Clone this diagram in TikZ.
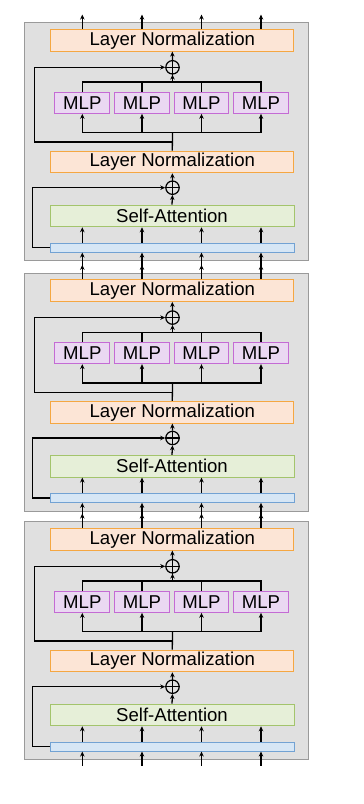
\documentclass[tikz,border=0pt]{standalone}
\usepackage{fontspec}
\setmainfont{Liberation Sans}
\usetikzlibrary{arrows.meta,calc}
\definecolor{blkfill}{HTML}{E0E0E0}
\definecolor{blkdraw}{HTML}{9A9A9A}
\definecolor{lnfill}{HTML}{FCE5D6}
\definecolor{lndraw}{HTML}{F5A742}
\definecolor{mlpfill}{HTML}{EAD8F2}
\definecolor{mlpdraw}{HTML}{C46BD4}
\definecolor{safill}{HTML}{E6EFD8}
\definecolor{sadraw}{HTML}{A3C46C}
\definecolor{barfill}{HTML}{D6E6F5}
\definecolor{bardraw}{HTML}{72A2D3}
\begin{document}
\begin{tikzpicture}[x=1pt,y=-1pt,
  blk/.style={draw=blkdraw, fill=blkfill, line width=1pt, minimum width=284pt, minimum height=238pt, inner sep=0pt, outer sep=0pt, anchor=north west},
  txt/.style={font=\fontsize{18.6}{22}\selectfont, text=black},
  lnbox/.style={txt, draw=lndraw, fill=lnfill, line width=1pt, minimum width=243.3pt, minimum height=21.7pt, inner sep=0pt},
  mlpbox/.style={txt, draw=mlpdraw, fill=mlpfill, line width=1pt, minimum width=54.7pt, minimum height=21.3pt, inner sep=0pt},
  sabox/.style={txt, draw=sadraw, fill=safill, line width=1pt, minimum width=244pt, minimum height=21.7pt, inner sep=0pt},
  barbox/.style={draw=bardraw, fill=barfill, line width=1pt, minimum width=244pt, minimum height=8.7pt, inner sep=0pt},
  plusnode/.style={circle, draw=black, line width=1.2pt, minimum size=13.4pt, inner sep=0pt},
  wire/.style={line width=1.3pt, draw=black},
  arr/.style={line width=1.3pt, draw=black, -{Stealth[length=5pt,width=4.5pt]}},
]
\useasboundingbox (0,0) rectangle (364,804);
\coordinate (c1) at (82.3,0);
\coordinate (c2) at (142,0);
\coordinate (c3) at (201.5,0);
\coordinate (c4) at (261,0);
\foreach \b/\T in {1/22.7,2/273,3/521.7}{
\begin{scope}[shift={(0,\T)}]
  \node[blk] (blk\b) at (24,0) {};
  \node[lnbox] (lnT\b) at (172.3,17.5) {Layer Normalization};
  \node[plusnode] (plA\b) at (172.5,44.6) {};
  \draw[wire, line width=1.1pt] (plA\b.north) -- (plA\b.south) (plA\b.west) -- (plA\b.east);
  \foreach \i in {1,2,3,4}{
    \node[mlpbox] (mlp\b-\i) at (c\i |- 0,80) {MLP};
  }
  \node[lnbox] (lnB\b) at (172.3,139.2) {Layer Normalization};
  \node[plusnode] (plB\b) at (172.5,165) {};
  \draw[wire, line width=1.1pt] (plB\b.north) -- (plB\b.south) (plB\b.west) -- (plB\b.east);
  \node[sabox] (sa\b) at (172,193.2) {Self-Attention};
  \node[barbox] (bar\b) at (172,225) {};
  \coordinate (tb\b) at (172.5,59.3);
  \coordinate (bb\b) at (172.5,110);
  \coordinate (k\b) at (34.7,119.3);
  \coordinate (m\b) at (32.7,225);
  % outputs
  \foreach \i in {1,2,3,4}{
    \draw[arr] (c\i |- lnT\b.north) -- ++(0,-14.3);
  }
  \draw[arr] (plA\b.north) -- (lnT\b.south);
  % top bus
  \draw[wire] (mlp\b-1.north) |- (tb\b) -| (mlp\b-4.north);
  \draw[wire] (mlp\b-2.north) -- (mlp\b-2.north |- tb\b);
  \draw[wire] (mlp\b-3.north) -- (mlp\b-3.north |- tb\b);
  \draw[arr] (tb\b) -- (plA\b.south);
  % bottom bus
  \draw[wire, line cap=rect] (mlp\b-1.south |- bb\b) -- (mlp\b-4.south |- bb\b);
  \foreach \i in {1,2,3,4}{
    \draw[arr] (mlp\b-\i.south |- bb\b) -- (mlp\b-\i.south);
  }
  \draw[wire] (lnB\b.north) -- (bb\b);
  % skip 1
  \draw[arr] (lnB\b.north |- k\b) -- (k\b) |- (plA\b.west);
  % lower part
  \draw[arr] (plB\b.north) -- (lnB\b.south);
  \draw[arr] (sa\b.north) -- (plB\b.south);
  \foreach \i in {1,2,3,4}{
    \draw[arr] (c\i |- bar\b.north) -- (c\i |- sa\b.south);
    \draw[arr] ($(c\i |- bar\b.south)+(0,14.3)$) -- (c\i |- bar\b.south);
  }
  \draw[arr] (bar\b.west) -- (m\b) |- (plB\b.west);
\end{scope}
}
\end{tikzpicture}
\end{document}
